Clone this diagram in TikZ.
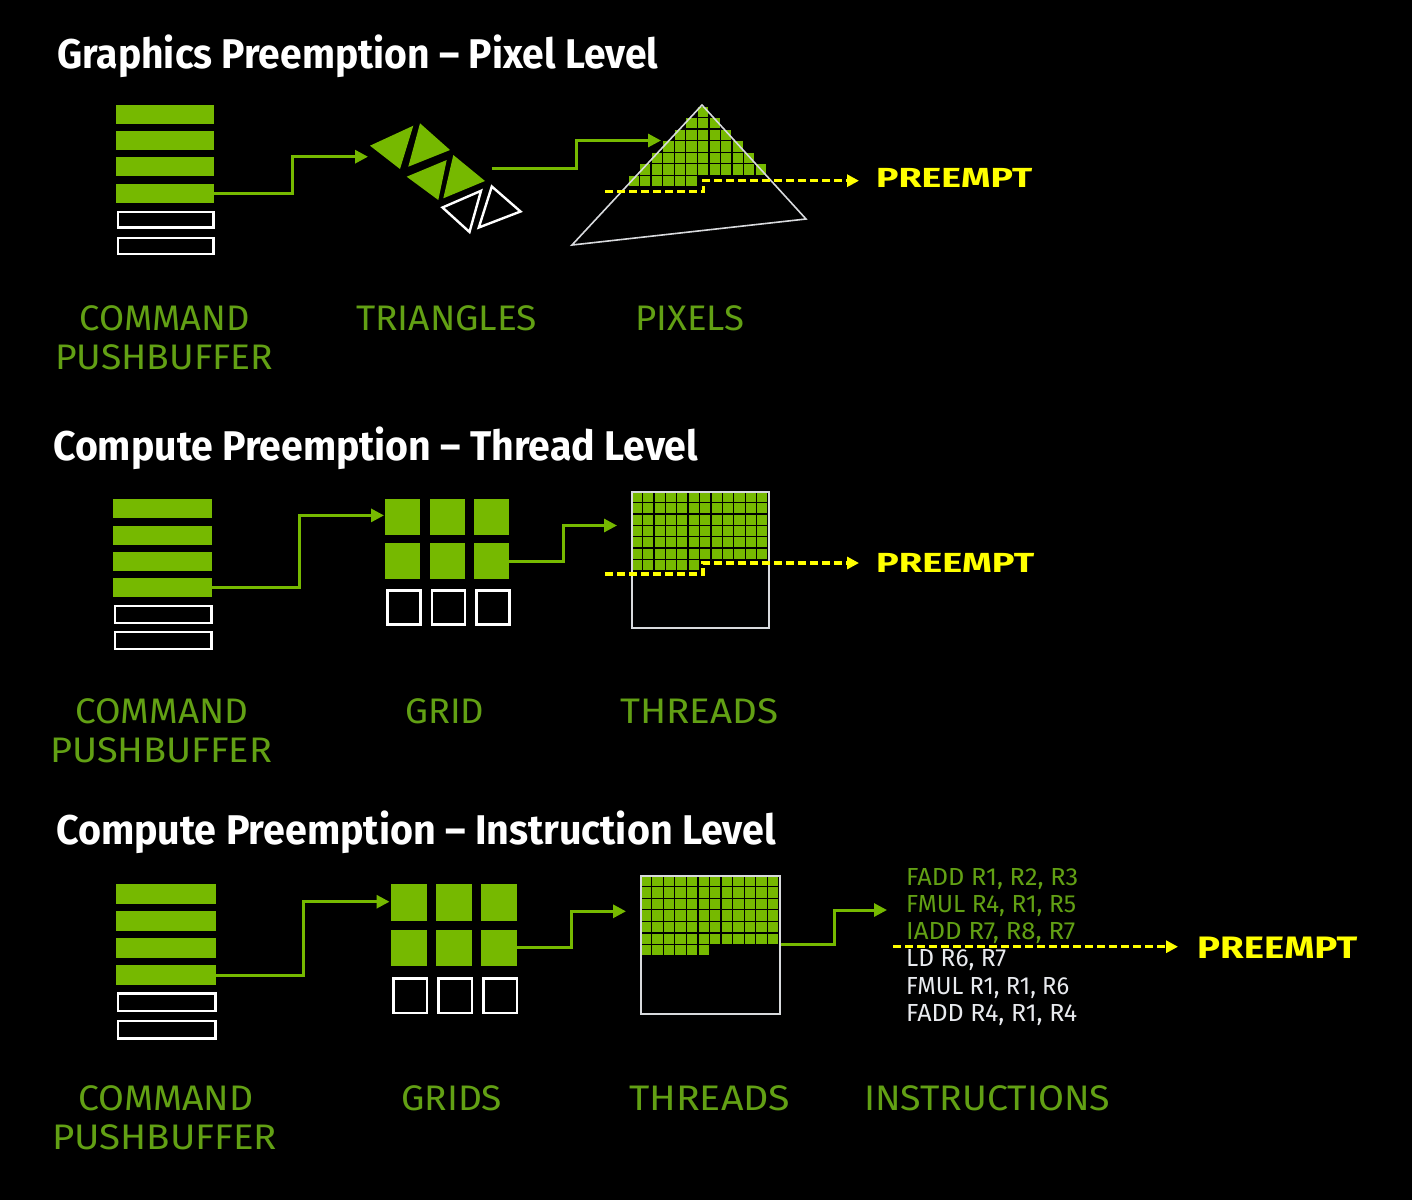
\documentclass[tikz,border=0pt]{standalone}
\usepackage{fontspec}
\usepackage{graphicx}
\setmainfont{Fira Sans}
\usetikzlibrary{arrows.meta}
\definecolor{nvg}{RGB}{118,185,0}
\definecolor{lblg}{RGB}{98,160,20}
\definecolor{pyel}{RGB}{255,255,0}
\definecolor{offw}{RGB}{232,234,238}
\newcommand\fw[2]{\resizebox{#1pt}{\height}{#2}}
\tikzset{
  gbar/.style={fill=nvg, draw=none, inner sep=0, anchor=north west},
  wbar/.style={draw=white, line width=2.4pt, fill=none, inner sep=0, anchor=north west},
  gsq/.style={fill=nvg, draw=none, inner sep=0, anchor=north west},
  wsq/.style={draw=white, line width=2.4pt, fill=none, inner sep=0, anchor=north west},
  cell/.style={fill=nvg, draw=black, line width=1.3pt},
  tbox/.style={draw=offw!85!gray, line width=1.6pt, fill=none, inner sep=0, anchor=north west},
  garr/.style={draw=nvg, line width=3pt, -{Triangle[length=13pt,width=13pt]}},
  parr/.style={draw=pyel, line width=3.2pt, dash pattern=on 8pt off 4pt, -{Triangle[length=12pt,width=12pt]}},
  ttl/.style={text=white, font=\fontsize{41.5}{48}\selectfont\bfseries, inner sep=0, anchor=base west},
  lbl/.style={text=lblg, font=\fontsize{35.5}{40}\selectfont, inner sep=0, anchor=base west},
  pre/.style={text=pyel, font=\fontsize{27.6}{30}\selectfont\bfseries, inner sep=0, anchor=base west},
  ins/.style={font=\fontsize{24.7}{28}\selectfont, inner sep=0, anchor=base west},
}
\begin{document}
\begin{tikzpicture}[x=1pt,y=-1pt]
\useasboundingbox (0,0) rectangle (1412,1200);
\fill[black] (0,0) rectangle (1412,1200);

% ================= Row 1 =================
\node[ttl] (t1) at (57,68.5) {\fw{601}{Graphics Preemption – Pixel Level}};
\foreach \i/\t in {1/105,2/131.1,3/157.2,4/183.3}
  \node[gbar, minimum width=97.6, minimum height=19] (r1b\i) at (115.7,\t) {};
\foreach \i/\t in {5/209.4,6/235.5}
  \node[wbar, minimum width=95.2, minimum height=15.8] (r1b\i) at (116.9,\t+1.2) {};
% triangles
\fill[nvg] (370,145.7) -- (413.3,125.7) -- (400,169) -- cycle;
\fill[nvg] (420,123.3) -- (450,150) -- (408.3,166.7) -- cycle;
\fill[nvg] (406.7,176.7) -- (446.7,160) -- (438.3,200) -- cycle;
\fill[nvg] (453.3,155) -- (485,181) -- (443.3,198.3) -- cycle;
\draw[white, line width=2.4pt, line join=miter] (442.5,207.5) -- (481,190.8) -- (469.5,232) -- cycle;
\draw[white, line width=2.4pt, line join=miter] (491.8,186.5) -- (520.5,211.5) -- (478.8,227.5) -- cycle;
\coordinate (r1tri) at (368,156.7);
\coordinate (r1triout) at (491.7,168.3);
% pixels
\foreach \ri/\a/\b in {0/6/6,1/5/7,2/4/8,3/3/9,4/2/10,5/1/11,6/0/5}
  \foreach \ci in {\a,...,\b}
    \draw[cell] ({628+\ci*11.55},{106+\ri*11.55}) rectangle ++(11.55,11.55);
\draw[offw!85!gray, line width=1.6pt] (702,105) -- (806,219) -- (572,245) -- cycle;
\coordinate (r1pix) at (661,140.5);
\draw[garr] (r1b4.east) -- ++(78.4,0) |- (r1tri);
\draw[garr] (r1triout) -- ++(84.3,0) |- (r1pix);
% preempt
\coordinate (r1ps) at (605,191.7);
\coordinate (r1pe) at (859,180.7);
\node[pre] (r1pre) at (876,187.3) {\fw{156}{PREEMPT}};
\draw[parr] (r1ps) -- ++(98.3,0) -- ++(0,-11) -- (r1pe);
% labels
\node[lbl] (r1l1) at (79.3,330.7) {\fw{170}{COMMAND}};
\node[lbl] (r1l2) at (55,369) {\fw{218}{PUSHBUFFER}};
\node[lbl] (r1l3) at (356,330.7) {\fw{181}{TRIANGLES}};
\node[lbl] (r1l4) at (635,330.7) {\fw{109}{PIXELS}};

% ================= Row 2 =================
\node[ttl] (t2) at (53,460) {\fw{645}{Compute Preemption – Thread Level}};
\foreach \i/\t in {1/499.1,2/525.3,3/551.5,4/577.9}
  \node[gbar, minimum width=98.8, minimum height=19] (r2b\i) at (112.8,\t) {};
\foreach \i/\t in {5/603.5,6/629.8}
  \node[wbar, minimum width=96.4, minimum height=16.8] (r2b\i) at (114,\t+1.2) {};
\foreach \i/\x/\y in {1/385/499,2/429.5/499,3/474/499,4/385/543,5/429.5/543,6/474/543}
  \node[gsq, minimum width=35, minimum height=36] (r2g\i) at (\x,\y) {};
\foreach \i/\x in {7/385,8/429.5,9/474}
  \node[wsq, minimum width=33, minimum height=34] (r2g\i) at (\x+1.2,589.2) {};
\foreach \ri in {0,...,5}
  \foreach \ci in {0,...,11}
    \draw[cell] ({631+\ci*11.42},{491+\ri*11.42}) rectangle ++(11.42,11.42);
\foreach \ci in {0,...,5}
  \draw[cell] ({631+\ci*11.42},{491+6*11.42}) rectangle ++(11.42,11.42);
\node[tbox, minimum width=137, minimum height=136] (r2th) at (631,491) {};
\coordinate (r2gin) at (384,515.4);
\coordinate (r2thin) at (617,525.5);
\draw[garr] (r2b4.east) -- ++(87.2,0) |- (r2gin);
\draw[garr] (r2g6.east) -- ++(54.5,0) |- (r2thin);
\coordinate (r2ps) at (605,574);
\coordinate (r2pe) at (859,563);
\node[pre] (r2pre) at (876,572.5) {\fw{158}{PREEMPT}};
\draw[parr] (r2ps) -- ++(98,0) -- ++(0,-11) -- (r2pe);
\node[lbl] (r2l1) at (75,723.7) {\fw{173}{COMMAND}};
\node[lbl] (r2l2) at (50,762) {\fw{222}{PUSHBUFFER}};
\node[lbl] (r2l3) at (405,723.7) {\fw{79}{GRID}};
\node[lbl] (r2l4) at (620,723.7) {\fw{158}{THREADS}};

% ================= Row 3 =================
\node[ttl] (t3) at (56,844) {\fw{720}{Compute Preemption – Instruction Level}};
\foreach \i/\t in {1/883.8,2/910.9,3/938,4/964.9}
  \node[gbar, minimum width=99.9, minimum height=20] (r3b\i) at (115.5,\t) {};
\foreach \i/\t in {5/991.2,6/1018.6}
  \node[wbar, minimum width=97.5, minimum height=17.6] (r3b\i) at (116.7,\t+1.2) {};
\foreach \i/\x/\y in {1/391/884,2/436/884,3/481/884,4/391/929.3,5/436/929.3,6/481/929.3}
  \node[gsq, minimum width=35.3, minimum height=36.7] (r3g\i) at (\x,\y) {};
\foreach \i/\x in {7/391,8/436,9/481}
  \node[wsq, minimum width=33.3, minimum height=34.6] (r3g\i) at (\x+1.2,977.2) {};
\foreach \ri in {0,...,5}
  \foreach \ci in {0,...,11}
    \draw[cell] ({640+\ci*11.58},{875+\ri*11.58}) rectangle ++(11.58,11.58);
\foreach \ci in {0,...,5}
  \draw[cell] ({640+\ci*11.58},{875+6*11.58}) rectangle ++(11.58,11.58);
\node[tbox, minimum width=139, minimum height=138] (r3th) at (640,875) {};
\coordinate (r3gin) at (389.5,901.7);
\coordinate (r3thin) at (626,911.3);
\coordinate (r3insin) at (887,910);
\draw[garr] (r3b4.east) -- ++(87.8,0) |- (r3gin);
\draw[garr] (r3g6.east) -- ++(54.4,0) |- (r3thin);
\draw[garr] (r3th.east) -- ++(54,0) |- (r3insin);
% instructions
\node[ins, text=lblg] (i1) at (906,885) {\fw{172}{FADD R1, R2, R3}};
\node[ins, text=lblg] (i2) at (906,912.3) {\fw{170}{FMUL R4, R1, R5}};
\node[ins, text=lblg] (i3) at (906,939.6) {\fw{169}{IADD R7, R8, R7}};
\node[ins, text=offw] (i4) at (906,966.9) {\fw{100}{LD R6, R7}};
\node[ins, text=offw] (i5) at (906,994.2) {\fw{163}{FMUL R1, R1, R6}};
\node[ins, text=offw] (i6) at (906,1021.6) {\fw{171}{FADD R4, R1, R4}};
\coordinate (r3ps) at (893,946.7);
\coordinate (r3pe) at (1178,946.7);
\draw[parr] (r3ps) -- (r3pe);
\node[pre, font=\fontsize{31}{34}\selectfont\bfseries] (r3pre) at (1197,958.3) {\fw{160}{PREEMPT}};
\node[lbl] (r3l1) at (78,1110.7) {\fw{175}{COMMAND}};
\node[lbl] (r3l2) at (52,1149) {\fw{225}{PUSHBUFFER}};
\node[lbl] (r3l3) at (401,1110.7) {\fw{101}{GRIDS}};
\node[lbl] (r3l4) at (629,1110.7) {\fw{161}{THREADS}};
\node[lbl] (r3l5) at (864,1110.7) {\fw{246}{INSTRUCTIONS}};
\end{tikzpicture}
\end{document}
